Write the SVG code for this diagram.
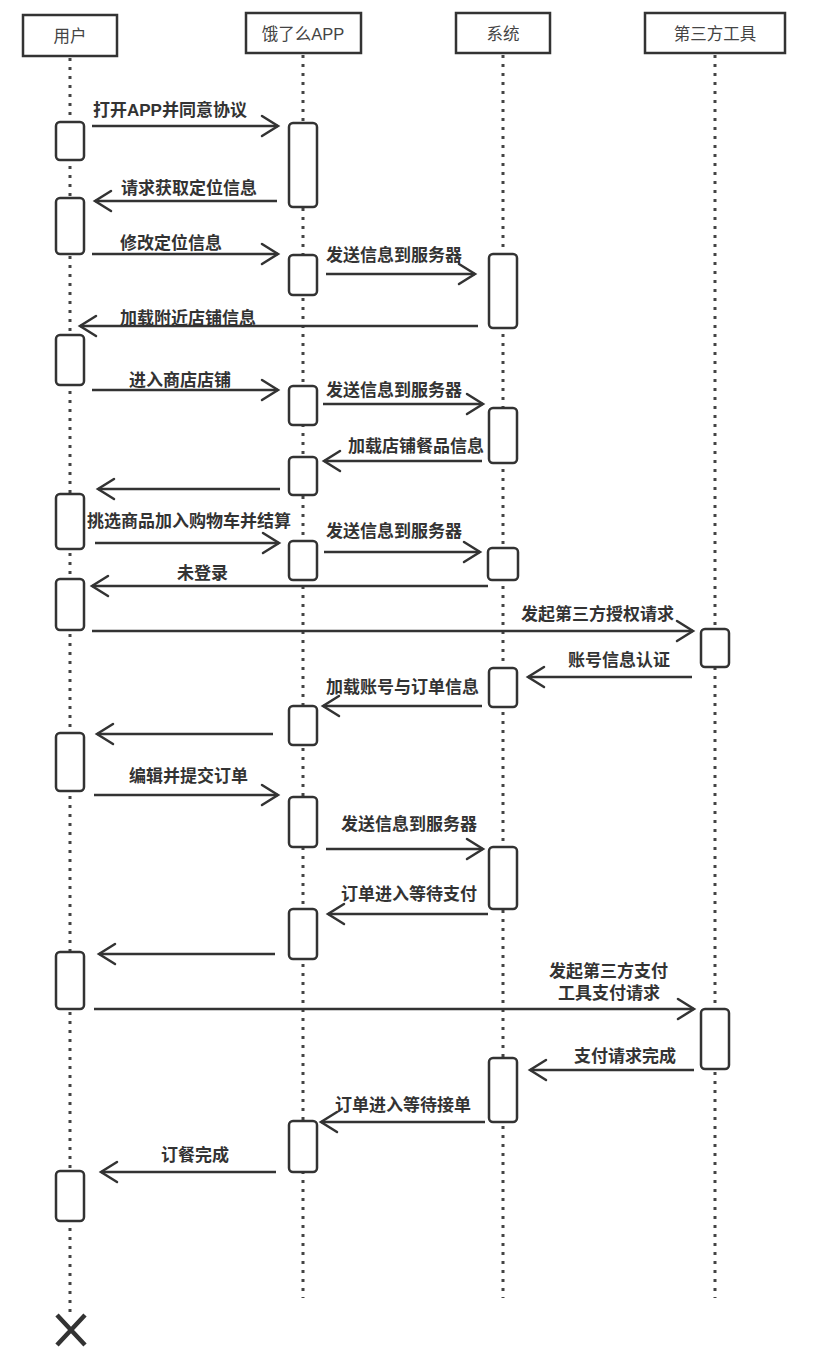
<svg xmlns="http://www.w3.org/2000/svg" width="830" height="1372" viewBox="0 0 830 1372">
<style>
.hdr{fill:#fff;stroke:#333;stroke-width:2.5}
.htxt{font-family:"Liberation Sans","Noto Sans CJK SC",sans-serif;font-size:16.5px;fill:#444;text-anchor:middle}
.life{stroke:#444;stroke-width:3;stroke-dasharray:3 6;fill:none}
.act{fill:#fff;stroke:#333;stroke-width:2.5}
.msg{stroke:#333;stroke-width:2.5;fill:none;marker-end:url(#arr)}
.lbl{font-family:"Liberation Sans","Noto Sans CJK SC",sans-serif;font-size:17px;font-weight:bold;fill:#333}
</style>
<defs>
<marker id="arr" markerUnits="userSpaceOnUse" markerWidth="22" markerHeight="26" viewBox="0 0 22 26" refX="19" refY="13" orient="auto">
<path d="M3,3 L19,13 L3,23" fill="none" stroke="#333" stroke-width="2.5" stroke-linecap="round"/>
</marker>
</defs>
<rect width="830" height="1372" fill="#fff"/>
<g id="user">
<line class="life" x1="70" y1="58" x2="70" y2="1316"/>
<rect class="hdr" x="23" y="15" width="94" height="41"/>
<text class="htxt" x="70" y="42">用户</text>
<rect class="act" x="56" y="122" width="28" height="38" rx="4"/>
<rect class="act" x="56" y="198" width="28" height="56" rx="4"/>
<rect class="act" x="56" y="335" width="28" height="50" rx="4"/>
<rect class="act" x="56" y="494" width="28" height="55" rx="4"/>
<rect class="act" x="56" y="579" width="28" height="51" rx="4"/>
<rect class="act" x="56" y="733" width="28" height="58" rx="4"/>
<rect class="act" x="56" y="952" width="28" height="57" rx="4"/>
<rect class="act" x="56" y="1171" width="28" height="50" rx="4"/>
<path d="M57,1315 L85,1345 M85,1315 L57,1345" stroke="#333" stroke-width="4.5" fill="none"/>
</g>
<g id="app">
<line class="life" x1="303" y1="55" x2="303" y2="1298"/>
<rect class="hdr" x="246" y="13" width="115" height="40"/>
<text class="htxt" x="303" y="40">饿了么APP</text>
<rect class="act" x="289" y="123" width="28" height="84" rx="4"/>
<rect class="act" x="289" y="255" width="28" height="40" rx="4"/>
<rect class="act" x="289" y="386" width="28" height="39" rx="4"/>
<rect class="act" x="289" y="457" width="28" height="38" rx="4"/>
<rect class="act" x="289" y="541" width="28" height="39" rx="4"/>
<rect class="act" x="289" y="706" width="28" height="39" rx="4"/>
<rect class="act" x="289" y="797" width="28" height="50" rx="4"/>
<rect class="act" x="289" y="909" width="28" height="50" rx="4"/>
<rect class="act" x="289" y="1121" width="28" height="51" rx="4"/>
</g>
<g id="system">
<line class="life" x1="503" y1="55" x2="503" y2="1298"/>
<rect class="hdr" x="456" y="13" width="94" height="40"/>
<text class="htxt" x="503" y="40">系统</text>
<rect class="act" x="489" y="254" width="28" height="74" rx="4"/>
<rect class="act" x="489" y="408" width="28" height="55" rx="4"/>
<rect class="act" x="488" y="548" width="30" height="32" rx="4"/>
<rect class="act" x="489" y="668" width="28" height="39" rx="4"/>
<rect class="act" x="489" y="847" width="28" height="62" rx="4"/>
<rect class="act" x="489" y="1058" width="28" height="64" rx="4"/>
</g>
<g id="third">
<line class="life" x1="715" y1="55" x2="715" y2="1298"/>
<rect class="hdr" x="645" y="13" width="140" height="40"/>
<text class="htxt" x="715" y="40">第三方工具</text>
<rect class="act" x="701" y="629" width="28" height="38" rx="4"/>
<rect class="act" x="701" y="1009" width="28" height="60" rx="4"/>
</g>
<g id="connectors">
<line class="msg" x1="92" y1="126" x2="278" y2="126"/>
<text class="lbl" x="93" y="116">打开APP并同意协议</text>
<line class="msg" x1="277" y1="201" x2="95" y2="201"/>
<text class="lbl" x="121" y="194">请求获取定位信息</text>
<line class="msg" x1="92" y1="254" x2="278" y2="254"/>
<text class="lbl" x="120" y="249">修改定位信息</text>
<line class="msg" x1="326" y1="274" x2="475" y2="274"/>
<text class="lbl" x="326" y="261">发送信息到服务器</text>
<line class="msg" x1="478" y1="326" x2="80" y2="326"/>
<text class="lbl" x="120" y="324">加载附近店铺信息</text>
<line class="msg" x1="92" y1="390" x2="278" y2="390"/>
<text class="lbl" x="129" y="386">进入商店店铺</text>
<line class="msg" x1="323" y1="404" x2="483" y2="404"/>
<text class="lbl" x="326" y="396">发送信息到服务器</text>
<line class="msg" x1="482" y1="461" x2="324" y2="461"/>
<text class="lbl" x="348" y="452">加载店铺餐品信息</text>
<line class="msg" x1="280" y1="489" x2="98" y2="489"/>
<line class="msg" x1="95" y1="543" x2="279" y2="543"/>
<text class="lbl" x="87" y="527">挑选商品加入购物车并结算</text>
<line class="msg" x1="324" y1="552" x2="480" y2="552"/>
<text class="lbl" x="326" y="537">发送信息到服务器</text>
<line class="msg" x1="488" y1="586" x2="92" y2="586"/>
<text class="lbl" x="177" y="579">未登录</text>
<line class="msg" x1="92" y1="631" x2="693" y2="631"/>
<text class="lbl" x="521" y="620">发起第三方授权请求</text>
<line class="msg" x1="692" y1="677" x2="528" y2="677"/>
<text class="lbl" x="568" y="666">账号信息认证</text>
<line class="msg" x1="482" y1="706" x2="323" y2="706"/>
<text class="lbl" x="326" y="693">加载账号与订单信息</text>
<line class="msg" x1="273" y1="734" x2="97" y2="734"/>
<line class="msg" x1="94" y1="795" x2="278" y2="795"/>
<text class="lbl" x="129" y="782">编辑并提交订单</text>
<line class="msg" x1="326" y1="849" x2="483" y2="849"/>
<text class="lbl" x="341" y="830">发送信息到服务器</text>
<line class="msg" x1="488" y1="914" x2="328" y2="914"/>
<text class="lbl" x="341" y="900">订单进入等待支付</text>
<line class="msg" x1="275" y1="954" x2="99" y2="954"/>
<line class="msg" x1="94" y1="1009" x2="694" y2="1009"/>
<text class="lbl" x="549" y="977">发起第三方支付</text>
<text class="lbl" x="558" y="999">工具支付请求</text>
<line class="msg" x1="694" y1="1070" x2="530" y2="1070"/>
<text class="lbl" x="574" y="1062">支付请求完成</text>
<line class="msg" x1="485" y1="1122" x2="321" y2="1122"/>
<text class="lbl" x="335" y="1111">订单进入等待接单</text>
<line class="msg" x1="276" y1="1172" x2="101" y2="1172"/>
<text class="lbl" x="161" y="1161">订餐完成</text>
</g>
</svg>
